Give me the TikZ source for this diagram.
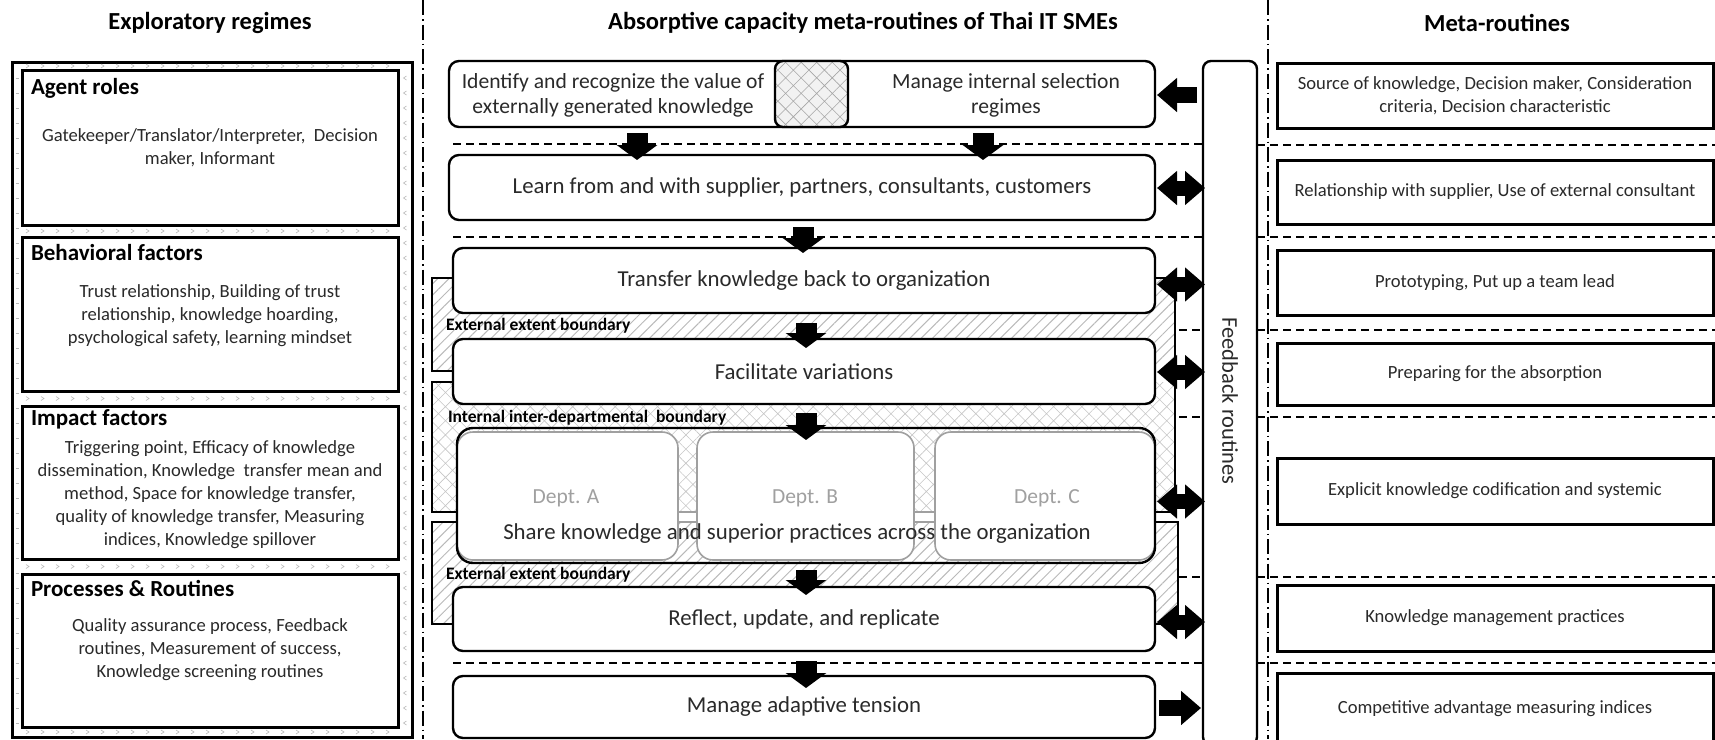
\documentclass[tikz,border=0pt]{standalone}
\usepackage{fontspec}
\setmainfont{Carlito}
\usetikzlibrary{arrows.meta,patterns.meta,calc}

\definecolor{txt}{HTML}{2A2A2A}
\definecolor{deptgray}{HTML}{A0A0A0}

\newcommand\TitleFont{\fontsize{24.5}{28}\selectfont\bfseries}
\newcommand\HeadFont{\fontsize{23}{26}\selectfont\bfseries}
\newcommand\BodyFont{\fontsize{18.6}{23}\selectfont}
\newcommand\StageFont{\fontsize{22.8}{26}\selectfont}
\newcommand\IdentFont{\fontsize{21.6}{25}\selectfont}
\newcommand\MetaFont{\fontsize{18.6}{23}\selectfont}
\newcommand\BndFont{\fontsize{17.5}{20}\selectfont\bfseries}
\newcommand\DeptFont{\fontsize{21.5}{24}\selectfont}
\newcommand\BarFont{\fontsize{22.5}{26}\selectfont}

\begin{document}
\begin{tikzpicture}[x=1pt,y=-1pt,
  every node/.style={inner sep=0pt,outer sep=0pt},
  stage/.style={draw,line width=2.4pt,rounded corners=10pt,fill=white},
  regime/.style={draw,line width=3pt,fill=white},
  metabox/.style={draw,line width=3pt,fill=white},
  dept/.style={draw=deptgray,line width=1.6pt,rounded corners=16pt,fill=white},
  sepline/.style={line width=1.3pt,dash pattern=on 8pt off 5pt},
  colsep/.style={line width=1.3pt,dash pattern=on 15pt off 4pt on 1.5pt off 4pt},
  bracket/.style={line width=2.4pt},
  chev/.style={draw=gray!55,line width=0.6pt},
  downarr/.style={line width=21pt,-{Triangle[length=15pt,width=40pt]}},
  sidearr/.style={line width=16pt,-{Triangle[length=20pt,width=33pt]}},
  duoarr/.style={line width=15pt,{Triangle[length=20pt,width=33pt]}-{Triangle[length=20pt,width=33pt]}},
  extband/.style={pattern={Lines[angle=45,distance=8pt,line width=1pt]},pattern color=gray!55},
  intband/.style={pattern={Hatch[angle=45,distance=10pt,line width=0.6pt]},pattern color=gray!45},
]
\useasboundingbox (0,0) rectangle (1715,739);
\clip (0,0) rectangle (1715,739);

% ---------- column separators and row separators ----------
\draw[colsep] (423,0) -- (423,739);
\draw[colsep] (1268,0) -- (1268,739);

% feedback bar (drawn first so row separators can end on it)
\node[draw,line width=2.4pt,rounded corners=8pt,fill=white,minimum width=54pt,minimum height=684pt] (bar) at (1230,403) {};

\foreach \yy in {144,237,663} {
  \draw[sepline] (453,\yy) -- (bar.west |- 0,\yy);
}
\foreach \yy in {330,417,577} {
  \draw[sepline] (1179,\yy) -- (bar.west |- 0,\yy);
}
\foreach \yy in {145,237,330,417,577,663} {
  \draw[sepline] (bar.east |- 0,\yy) -- (1715,\yy);
}

% ---------- titles ----------
\node[font=\TitleFont] (t1) at (210,23) {Exploratory regimes};
\node[font=\TitleFont] (t2) at (863,23) {Absorptive capacity meta-routines of Thai IT SMEs};
\node[font=\TitleFont] (t3) at (1497,23) {Meta-routines};

% ---------- exploratory regimes ----------
\node[draw,line width=3pt,minimum width=400pt,minimum height=675pt] (frame) at (212,399.5) {};
\foreach \yy in {66,231,398.5,566.5,732} {
  \foreach \xx in {28,43,...,395} {
    \draw[chev] ({\xx-2},{\yy-2}) -- ({\xx+1},\yy) -- ({\xx-2},{\yy+2});
  }
}
\foreach \yy in {78,93,...,725} {
  \draw[chev] (15.5,\yy) -- (18.5,\yy);
  \draw[chev] (406.5,{\yy-2}) -- (403.5,\yy) -- (406.5,{\yy+2});
}
\node[regime,minimum width=376pt,minimum height=155pt] (ar) at (210,147.5) {};
\node[regime,minimum width=376pt,minimum height=154pt] (bf) at (210,314) {};
\node[regime,minimum width=376pt,minimum height=153pt] (imf) at (210,482.5) {};
\node[regime,minimum width=376pt,minimum height=153pt] (pr) at (210,650.5) {};

\node[font=\HeadFont,anchor=west] (arh) at (31,88) {Agent roles};
\node[font=\BodyFont,text=txt,align=center] (arb) at (210,148)
  {Gatekeeper/Translator/Interpreter,\ \ Decision\\maker, Informant};
\node[font=\HeadFont,anchor=west] (bfh) at (31,253) {Behavioral factors};
\node[font=\BodyFont,text=txt,align=center] (bfb) at (210,316)
  {Trust relationship,\ Building\ of trust\\relationship,\ knowledge hoarding,\\psychological safety, learning\ mindset};
\node[font=\HeadFont,anchor=west] (imfh) at (31,419) {Impact factors};
\node[font=\BodyFont,text=txt,align=center] (imfb) at (210,495)
  {Triggering point, Efficacy of knowledge\\dissemination, Knowledge\ \ transfer mean and\\method, Space for knowledge transfer,\\quality\ of knowledge transfer, Measuring\\indices, Knowledge spillover};
\node[font=\HeadFont,anchor=west] (prh) at (31,588) {Processes \& Routines};
\node[font=\BodyFont,text=txt,align=center] (prb) at (210,650)
  {Quality assurance\ process, Feedback\\routines,\ Measurement of success,\\Knowledge screening\ routines};

% ---------- boundary bands ----------
\fill[extband] (432,278) rectangle (1175,371);
\fill[intband] (432,382) rectangle (1175,512);
\fill[extband] (432,522) rectangle (1178,624);
\draw[deptgray,line width=1.2pt] (440,512) -- (1170,512);
\draw[deptgray,line width=1.2pt] (440,522) -- (1170,522);

\draw[bracket] (455,278) -- (432,278) -- (432,371) -- (455,371);
\draw[bracket] (455,382) -- (432,382) -- (432,512) -- (459,512);
\draw[bracket] (459,522) -- (432,522) -- (432,624) -- (455,624);
\draw[bracket] (1153,278) -- (1175,278) -- (1175,512) -- (1153,512);
\draw[bracket] (1153,522) -- (1178,522) -- (1178,624) -- (1153,624);

% ---------- absorptive capacity stages ----------
\node[stage,minimum width=706pt,minimum height=66pt] (ident) at (802,94) {};
\node[draw,line width=2.4pt,rounded corners=8pt,minimum width=73pt,minimum height=66pt,
      preaction={fill=gray!10},pattern={Hatch[angle=45,distance=11pt,line width=0.6pt]},pattern color=gray!70] (cross) at (811.5,94) {};
\node[font=\IdentFont,text=txt,align=center] (identa) at (613,95)
  {Identify and recognize the value of\\externally generated\ knowledge};
\node[font=\IdentFont,text=txt,align=center] (identb) at (1006,95)
  {Manage\ internal selection\\regimes};

\node[stage,minimum width=706pt,minimum height=65pt] (learn) at (802,187.5)
  {\StageFont\color{txt}Learn from and with supplier, partners, consultants, customers};
\node[stage,minimum width=702pt,minimum height=65pt] (transfer) at (804,280.5)
  {\StageFont\color{txt}Transfer knowledge back to organization};
\node[stage,minimum width=702pt,minimum height=65pt] (facil) at (804,371.5)
  {\StageFont\color{txt}Facilitate variations};

\node[dept,minimum width=221pt,minimum height=128pt] (depta) at (567.5,496) {};
\node[dept,minimum width=217pt,minimum height=128pt] (deptb) at (805.5,496) {};
\node[dept,minimum width=220pt,minimum height=128pt] (deptc) at (1045,496) {};
\node[draw,line width=2.4pt,rounded corners=16pt,minimum width=698pt,minimum height=135pt] (share) at (806,495.5) {};
\node[font=\DeptFont,text=deptgray] (dal) at (566,498) {Dept. A};
\node[font=\DeptFont,text=deptgray] (dbl) at (805,498) {Dept. B};
\node[font=\DeptFont,text=deptgray] (dcl) at (1047,498) {Dept. C};
\node[font=\StageFont,text=txt] (sharet) at (797,534)
  {Share knowledge and superior practices across the organization};

\node[stage,minimum width=702pt,minimum height=64pt] (reflect) at (804,619)
  {\StageFont\color{txt}Reflect, update, and replicate};
\node[stage,minimum width=702pt,minimum height=62pt] (manage) at (804,707)
  {\StageFont\color{txt}Manage adaptive tension};

\node[font=\BndFont,anchor=west] (b1) at (446,326) {External extent boundary};
\node[font=\BndFont,anchor=west] (b2) at (448,418) {Internal inter-departmental\ \ boundary};
\node[font=\BndFont,anchor=west] (b3) at (446,575) {External extent boundary};

\node[font=\BarFont,text=txt,rotate=-90] (fbt) at (1230,401) {Feedback routines};

% ---------- meta-routines ----------
\node[metabox,minimum width=436pt,minimum height=65pt,font=\MetaFont,text=txt,align=center] (m1) at (1495,95.5)
  {Source of knowledge, Decision maker, Consideration\\criteria,\ Decision characteristic};
\node[metabox,minimum width=436pt,minimum height=64pt,font=\MetaFont,text=txt] (m2) at (1495,192)
  {Relationship\ with\ supplier, Use of external\ consultant};
\node[metabox,minimum width=436pt,minimum height=65pt,font=\MetaFont,text=txt] (m3) at (1495,282.5)
  {Prototyping,\ Put up a team lead};
\node[metabox,minimum width=436pt,minimum height=62pt,font=\MetaFont,text=txt] (m4) at (1495,374)
  {Preparing\ for the absorption};
\node[metabox,minimum width=436pt,minimum height=66pt,font=\MetaFont,text=txt] (m5) at (1495,491)
  {Explicit\ knowledge codification\ and systemic};
\node[metabox,minimum width=436pt,minimum height=66pt,font=\MetaFont,text=txt] (m6) at (1495,618)
  {Knowledge management practices};
\node[metabox,minimum width=436pt,minimum height=72pt,font=\MetaFont,text=txt] (m7) at (1495,709)
  {Competitive\ advantage measuring indices};

% ---------- flow arrows ----------
\draw[downarr] ($(ident.south)+(-165,6)$) -- ($(learn.north)+(-165,5)$);
\draw[downarr] ($(ident.south)+(181,6)$) -- ($(learn.north)+(181,5)$);
\draw[downarr] ($(learn.south)+(1,7)$) -- ($(transfer.north)+(-1,5)$);
\draw[downarr] ($(transfer.south)+(2,10)$) -- ($(facil.north)+(2,9)$);
\draw[downarr] ($(facil.south)+(2,9)$) -- ($(share.north)+(0,12)$);
\draw[downarr] ($(share.south)+(0,7)$) -- ($(reflect.north)+(2,8)$);
\draw[downarr] ($(reflect.south)+(2,10)$) -- ($(manage.north)+(2,12)$);

% ---------- feedback connectors ----------
\draw[sidearr] ($(bar.west |- ident.east)+(-6,1)$) -- ($(ident.east)+(2,1)$);
\draw[duoarr] ($(learn.east)+(2,0.5)$) -- ($(bar.west |- learn.east)+(2,0.5)$);
\draw[duoarr] ($(transfer.east)+(2,4)$) -- ($(bar.west |- transfer.east)+(2,4)$);
\draw[duoarr] ($(facil.east)+(2,0.5)$) -- ($(bar.west |- facil.east)+(2,0.5)$);
\draw[duoarr] ($(share.east)+(2,6)$) -- ($(bar.west |- share.east)+(2,6)$);
\draw[duoarr] ($(reflect.east)+(2,3)$) -- ($(bar.west |- reflect.east)+(2,3)$);
\draw[sidearr] ($(manage.east)+(4,1)$) -- ($(bar.west |- manage.east)+(-2,1)$);
\end{tikzpicture}
\end{document}
